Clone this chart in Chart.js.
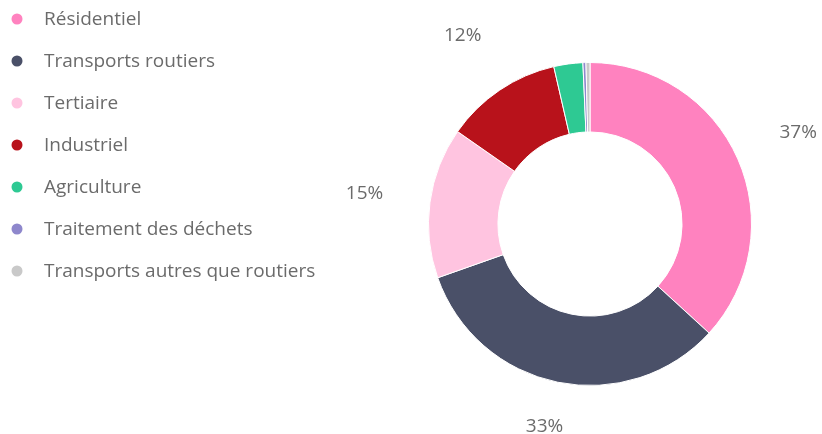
<!DOCTYPE html>
<html lang="fr">
<head>
<meta charset="utf-8">
<title>Répartition par secteur</title>
<script src="https://cdn.jsdelivr.net/npm/chart.js@4.4.1/dist/chart.umd.min.js"></script>
<style>
    html, body { margin: 0; padding: 0; background: #ffffff; }
    #wrap { width: 822px; height: 434px; }
</style>
</head>
<body>
<div id="wrap"><canvas id="chart" width="822" height="434"></canvas></div>
<script>
// data (share in %)
const sectors = [
    "Résidentiel",
    "Transports routiers",
    "Tertiaire",
    "Industriel",
    "Agriculture",
    "Traitement des déchets",
    "Transports autres que routiers"
];
const shares = [36.8, 32.8, 15.1, 11.7, 2.9, 0.3, 0.4];

const sectorColors = ["#ff82bf", "#4a5068", "#ffc4e0", "#b8121b", "#2ec993", "#8e87cc", "#c9c9c9"];
const textColor = "#6b6b6b";
const fontFamily = "'Open Sans', 'Noto Sans', sans-serif";

// legend drawn by hand so the spacing matches the original list
const sideLegend = {
    id: "sideLegend",
    afterDraw(chart, args, opts) {
        const ctx = chart.ctx;
        const items = Chart.overrides.doughnut.plugins.legend.labels.generateLabels(chart);
        ctx.save();
        ctx.font = opts.fontSize + "px " + fontFamily;
        ctx.textBaseline = "middle";
        ctx.textAlign = "left";
        items.forEach(function (item, i) {
            const y = opts.top + i * opts.step;
            ctx.beginPath();
            ctx.fillStyle = item.fillStyle;
            ctx.arc(opts.dotX, y, opts.dotRadius, 0, Math.PI * 2);
            ctx.fill();
            ctx.fillStyle = textColor;
            ctx.fillText(item.text, opts.textX, y + 1);
        });
        ctx.restore();
    }
};

// percentage labels outside the ring, only for the larger slices
const outerLabels = {
    id: "outerLabels",
    afterDatasetsDraw(chart, args, opts) {
        const ctx = chart.ctx;
        const meta = chart.getDatasetMeta(0);
        const values = chart.data.datasets[0].data;
        const total = values.reduce(function (a, b) { return a + b; }, 0);
        const half = opts.fontSize / 2 - 2;
        ctx.save();
        ctx.font = opts.fontSize + "px " + fontFamily;
        ctx.fillStyle = textColor;
        ctx.textAlign = "center";
        ctx.textBaseline = "middle";
        meta.data.forEach(function (arc, i) {
            const pct = values[i] / total * 100;
            if (pct < opts.minPercent) {
                return;
            }
            const p = arc.getProps(["x", "y", "startAngle", "endAngle", "outerRadius"], true);
            const mid = (p.startAngle + p.endAngle) / 2;
            const r = p.outerRadius + opts.distance;
            let y = p.y + Math.sin(mid) * r;
            // keep the label inside the canvas
            y = Math.min(Math.max(y, half), chart.height - half);
            ctx.fillText(Math.round(pct) + "%", p.x + Math.cos(mid) * r, y);
        });
        ctx.restore();
    }
};

new Chart(document.getElementById("chart").getContext("2d"), {
    type: "doughnut",
    data: {
        labels: sectors,
        datasets: [
            {
                data: shares,
                backgroundColor: sectorColors,
                borderColor: "#ffffff",
                borderWidth: 1
            }
        ]
    },
    options: {
        responsive: false,
        devicePixelRatio: 1,
        animation: false,
        cutout: "57%",
        layout: {
            padding: { left: 428, right: 70, top: 62, bottom: 48 }
        },
        plugins: {
            legend: { display: false },
            tooltip: { enabled: false },
            sideLegend: { dotX: 17, dotRadius: 5.5, textX: 44, top: 19, step: 42, fontSize: 19 },
            outerLabels: { distance: 66, fontSize: 19, minPercent: 5 }
        }
    },
    plugins: [outerLabels, sideLegend]
});
</script>
</body>
</html>
